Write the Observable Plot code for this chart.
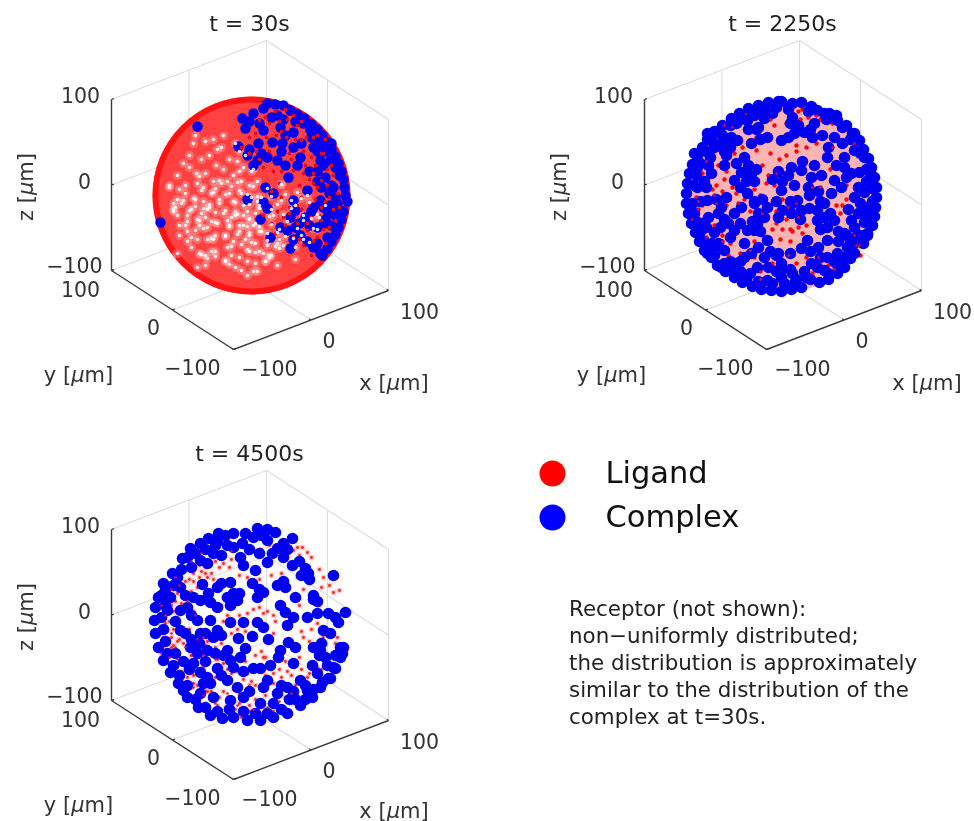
<!DOCTYPE html>
<html><head><meta charset="utf-8">
<script src="https://cdn.jsdelivr.net/npm/d3@7"></script>
<script src="https://cdn.jsdelivr.net/npm/@observablehq/plot@0.6"></script>
<style>
html,body{margin:0;padding:0;background:#fff;overflow:hidden;width:974px;height:821px;position:relative}
.p{position:absolute;display:block}
.p svg{display:block;overflow:visible;filter:blur(.5px)}
#note{position:absolute;left:569px;top:595px;font:21.4px/27px "DejaVu Sans",sans-serif;color:#222;white-space:nowrap;filter:blur(.3px)}
</style></head><body>
<div id="root"></div>
<div id="note">Receptor (not shown):<br>non−uniformly distributed;<br>the distribution is approximately<br>similar to the distribution of the<br>complex at t=30s.</div>
<script>
// Values: flat lists of (h, v), position in the viewing plane, in µm from the sphere centre.
const titles = ["t = 30s","t = 2250s","t = 4500s"];
const legendNames = ["Ligand","Complex"];
const axisTicks = [-100,0,100];

const complex30 = [-54,69,-9,77,2,82,12,87,26,80,39,85,51,77,-6,67,12,65,29,68,42,63,59,65,-13,49,7,52,21,53,31,52,42,48,-4,40,6,35,26,35,34,30,49,38,62,48,69,35,37,18,56,5,14,8,22,2,12,-7,16,-13,-4,-4,42,-5,44,-15,39,-22,9,-24,29,-32,36,-35,19,-42,49,-40,54,-22,39,-53,62,-12,69,-5,66,-32,62,-52,69,-58,77,-18,82,8,74,18,79,35,69,52,-91,-27,
16,92,24,91,32,90,39,85,46,81,53,77,60,71,66,66,71,60,76,53,80,46,84,39,87,32,90,24,92,16,93,8,94,0,96,-6,92,-16,90,-24,87,-32,84,-39,80,-46,76,-53,71,-60,88,20,84,28,80,10,86,-8,84,-20,80,-30,76,-42,72,-28,
-2,46,10,42,2,30,16,38,30,44,46,30,58,24,66,44,74,44,80,52,72,30,66,24,60,-16,72,-12,74,-24,48,-28,44,-32,42,-44,56,-46,58,-30,66,-48,78,-10,70,8,78,2,66,14,52,72,44,74,32,76,20,78,8,72,-2,74,34,60,50,52,60,58,68,54,84,-2,88,-14];
const ligandOver30 = [8,75,18,72,28,74,36,76,46,70,55,58,15,58,25,60,35,58,50,55,-2,58,5,44,18,44,38,42,52,44,60,38,72,42,12,28,22,24,42,25,52,22,62,22,28,12,48,10,62,12,70,15,76,26,30,-2,50,-2,58,-8,70,-12,78,-2,76,10,26,-16,38,-12,50,-14,60,-22,70,-25,78,-32,20,-28,32,-22,46,-28,56,-35,66,-42,28,-44,42,-42,52,-50,60,-60,74,-48,84,-25,88,-12,86,2,82,20,74,56,62,58,42,80,24,84,
4,62,14,78,30,64,44,56,64,30,70,42,80,30,54,30,40,36,30,24,46,-10,64,-4,74,-6,82,-14,56,-28,68,-20,72,-34,62,-46,48,-44,34,-30,24,-38,66,8,58,16,-2,42,8,36,-10,48,34,86,50,74,66,60,12,-20,20,4,38,-18];
const gaps30 = [-62,40,-55,22,-48,8,-42,-12,-35,30,-30,48,-24,14,-18,-6,-12,24,-8,-30,-2,10,4,-48,-66,10,-60,-14,-52,-30,-44,-44,-36,-56,-28,-18,-22,36,-16,52,-10,2,-4,-16,2,26,8,-36,12,-58,-70,-8,-58,52,-50,36,-46,22,-40,2,-34,-28,-28,60,-22,-30,-18,-46,-12,-62,-6,40,0,-2,6,14,-64,-26,-54,-44,-46,-60,-38,14,-32,-8,-26,-40,-20,-60,-14,34,-8,-10,-2,-40,4,-18,10,-2,-74,20,-68,32,-56,-4,-50,-18,-42,40,-36,-40,-30,12,-24,-52,-16,-20,-10,14,-4,-54,2,-30,-62,28,-54,12,-48,-6,-40,-26,-34,46,-28,26,-22,2,-16,-72,-8,28,-2,-24,6,-6,-78,-16,-72,-40,-64,-46,-56,60,-46,54,-38,56,-26,-66,-18,20,-12,44,-6,-44,0,24,8,-56,16,-50,22,-20,18,-62,-44,-14,-32,-4,-20,-22,-12,-36,-4,-66,4,-68,14,-66,-52,-58,32,-50,-38,-44,10,-36,-12,-30,-54,-24,-8,-20,44,-10,56,0,-66,-30,-76,-12,-72,6,-60,-52,-74,-20,-64,-36,-74,-4,-82,8,-74,
-58,44,-52,28,-44,16,-38,-4,-31,36,-26,52,-20,20,-14,-2,-9,30,-5,-26,1,16,7,-44,-63,4,-57,-10,-49,-26,-41,-48,-33,-52,-25,-14,-19,40,-13,58,-7,6,-1,-12,5,30,11,-32,15,-54,-72,-2,-56,58,-47,42,-43,26,-37,8,-31,-24,-25,66,-19,-26,-15,-42,-9,-58,-3,46,3,2,9,18,-60,-20,-51,-40,-43,-56,-35,20,-29,-2,-23,-36,-17,-56,-11,40,-5,-4,1,-36,7,-14,13,2,-76,14,-66,28,-53,0,-47,-14,-39,46,-33,-36,-27,18,-21,-48,-13,-16,-7,20,-1,-50,5,-26,-65,24,-51,16,-45,-2,-37,-22,-31,52,-25,32,-19,8,-13,-68,-5,34,1,-20,9,-10,-75,-22,-69,-36,-61,-50,-59,34,-41,62,-33,60,-23,-62,-15,26,-9,50,-3,-38,3,30,11,-52,19,-46,-70,20,-60,26,-48,50,-40,28,-34,4,-28,-46,-22,-16,-16,8,-10,-40,-56,-44,-32,-64,-20,-78,-8,-66,2,-74,-78,-4,-80,6,-76,26,-70,44,-64,-60,-42,-72,-30,-78,-14,-82,10,-80,-62,52,-44,66,-34,68,-22,74,-10,70];

const complex2250 = [-3,94,8,92,17,93,27,89,45,82,53,75,62,70,68,62,75,55,79,46,84,37,87,28,90,18,92,8,92,-2,91,-12,90,-21,88,-30,83,-40,79,-48,66,-63,60,-72,53,-78,44,-84,35,-87,17,-92,7,-94,-3,-96,-13,-95,-23,-94,-32,-91,-42,-87,-50,-82,-59,-76,-67,-70,-73,-62,-80,-55,-85,-46,-89,-37,-93,-28,-96,-18,-98,-8,-98,2,-97,12,-95,22,-92,31,-87,40,-82,48,-77,56,-70,64,-62,70,-53,77,-45,82,-36,87,-26,90,-16,93,-6,94,
-37,75,-20,77,10,62,20,63,33,85,40,82,52,80,70,62,-53,58,-47,55,-77,62,-70,48,-40,38,-43,23,-33,22,-50,15,7,28,17,25,27,18,37,20,43,38,70,45,80,38,75,23,-3,5,25,0,13,-5,17,-15,25,-13,-2,-15,50,15,47,2,57,8,70,-2,80,3,87,7,67,-25,80,-27,33,-25,43,-32,-20,-22,-27,-28,-50,-18,-50,-35,-70,-37,-37,2,-77,-5,-87,28,-90,-18,-63,-12,-37,-35,23,-45,17,-53,27,-68,33,-72,-3,-82,-17,-85,43,-62,63,-52,70,-58,53,-58,70,-32,-77,-58,-63,-72,-50,-68,-33,-58,-20,-62,-3,-68,40,-75,10,-88,-27,-72,-83,-45,83,-12,83,-38,-33,52,-17,58,-87,8,-90,42,-73,22,67,22,-17,-45,-30,-35,-40,-48,-60,-55,-17,-12,-43,-12,7,-18,33,-15,50,-25,60,-38,43,-45,-3,55,
-12,82,-28,84,-48,72,-62,60,-74,38,-80,14,-84,-6,-82,-28,-72,-48,-54,-66,-34,-78,-8,-76,22,-82,52,-68,74,-44,84,-18,82,14,60,28,30,72,8,78,-60,30,-58,-2,-56,-28,-44,-66,-16,-72,-8,-60,6,-74,54,-46,-26,68,-60,44,-80,-28,-76,30,-30,-8,-26,-18,6,-6,40,-8,64,-14,62,-40,
-90,10,-92,-8,-88,-26,-84,-36,-80,-46,-70,-60,-60,-68,-48,-76,-38,-84,-26,-86,-12,-88,0,-88,12,-84,26,-84,44,-78,58,-64,68,-50,76,-40,86,-22,88,-6,86,14,-88,20,-84,32,-78,44,-72,54,-64,62,-54,70,-44,76,-32,82,-20,86,-8,88,4,86,24,84,42,76,58,68,66,56,76,42,82,26,86,18,74,8,
-62,52,-54,48,-58,40,-48,32,-36,30,-28,26,-38,14,-44,8,-30,14,-24,56,-30,80,-36,66,-28,66,6,72,14,70,4,58,28,58,26,66,38,60,50,58,58,52,44,48,52,30,60,38,62,18,86,24,30,30,18,34,4,20,-6,24,-12,16,-2,14,10,10,24,8,34,4,36,-6,16,-24,8,-8,-8,-6,-6,-22,40,-22,46,-18,36,-34,54,-36,74,-18,76,-8,72,-42,66,-46,-60,-24,-64,-32,-76,-22,-78,-32,-66,-48,-54,-42,-44,-28,-32,-26,-24,-36,-26,-52,-14,-56,-6,-58,6,-58,26,-56,34,-52,36,-62,50,-66,60,-62,20,-76,-40,-62,-56,-72,-70,-52,-44,-76,-4,-76,8,-78,-68,-4,-78,8,-66,-18,-30,-6,-22,-4];
const ligand2250 = [-28,45,-22,30,-14,42,-5,36,2,40,12,44,22,48,32,52,48,48,58,40,-62,4,-55,-4,-48,2,-40,-4,-30,6,-24,0,-18,12,-10,10,-8,22,-2,-4,4,-12,-8,-28,-2,-34,6,-34,14,-32,22,-30,-4,-44,6,-46,-30,-46,-22,-40,14,-22,18,-38,36,8,42,-6,28,8,52,-10,58,-10,56,-18,62,-4,-50,42,-42,48,-58,-10,-60,16,-70,-20,-72,6,-82,-10,-86,-6,-84,18,-78,34,-66,30,-52,68,-28,58,-10,70,2,72,16,76,28,70,-34,-55,-54,-48,-24,-76,-10,-72,4,-60,22,-62,34,-62,-46,-76,-56,-60,66,-66,72,-50,62,10,-68,-8,12,50,70,52,38,78,-62,-46,-36,28,-16,20,-8,-16,12,-8,30,28,46,26,-68,10,-92,-24,-72,-42,-78,-42,-38,-82,-24,-84,18,-76,50,-74,76,-60,75,-50,36,76,24,78,14,84,
-88,-2,-82,22,-86,-14,-76,18,-70,0,-82,44,-60,70,-38,80,-14,76,18,86,32,80,48,72,-70,-30,-62,-40,-44,-58,-30,-62,-12,-68,12,-68,28,-78,44,-70,70,-40,78,-20,-58,24,-52,8,-46,-8,-34,-16,-22,-18,2,-24,8,-36,-12,-34];

const complex4500 = [-33,92,-43,87,-51,82,-61,77,-69,67,-79,52,-88,42,-93,28,-96,18,-97,5,-96,-8,-93,-22,-88,-35,-81,-47,-73,-58,-64,-72,-53,-82,-41,-90,-29,-93,-18,-92,-4,-95,9,-95,22,-92,36,-88,49,-80,61,-72,69,-62,77,-53,84,-43,89,-32,92,-22,94,13,87,3,82,50,6,97,16,96,24,93,41,87,-18,92,2,88,16,85,26,77,-9,82,-24,80,-38,72,-51,65,-64,68,-74,48,-71,38,-81,28,-84,15,-64,18,-54,5,-51,25,-43,32,-49,41,-34,38,-21,43,-18,32,-14,25,-21,20,-41,23,-34,18,1,42,6,28,12,33,26,40,34,38,29,20,34,13,44,28,62,30,57,52,54,57,41,60,32,68,21,72,16,63,4,55,-8,60,-18,78,36,0,42,8,56,8,66,12,77,12,72,-5,79,-8,89,-22,91,-28,69,-25,62,-22,61,-40,82,-42,79,-53,71,-57,56,-65,29,-25,27,-32,37,-17,44,-22,42,-38,17,-14,1,-11,-13,-13,-21,3,-8,3,6,3,12,-2,-41,5,-34,-5,-51,-8,-44,-25,-61,-22,-71,-5,-71,15,-24,-25,-6,-23,-21,-35,-11,-32,2,-43,19,-40,9,-43,-34,-43,-51,-47,-41,-58,-24,-55,16,-55,12,-62,26,-68,36,-62,49,-55,-68,-65,-51,-68,-38,-72,-21,-75,-8,-72,9,-78,22,-78,-11,68,
-90,30,-86,20,-90,8,-88,-4,-86,-16,-84,-28,-78,-40,-72,-50,-64,-60,-56,-74,-46,-82,-34,-86,-22,-84,-8,-86,4,-88,16,-88,30,-84,44,-74,54,-74,62,-64,-78,40,-70,56,-60,58,-56,72,-46,76,-34,84,-26,90,-6,92,10,90,32,82,36,76,48,64,-76,4,-66,-8,-60,-14,-52,-18,-54,-28,-46,-36,-60,10,-58,28,-66,30,-38,-12,-30,-10,-46,-8,-36,-28,-28,-30,-18,-42,-24,28,-18,24,-12,32,8,36,32,44,62,26,58,46,50,50,66,24,84,8,70,-18,74,-32,84,-30,76,-40,66,-48,68,-30,-30,42,-8,-46,-76,-28,-68,-36,-62,-44,-44,-52,-30,-50,-14,-62,-2,-66,30,-60,42,-66,54,-60,38,-74,-2,76,8,72,-30,70,-44,62,-36,80,-58,-38,-48,-58,-86,36];
const ligand4500 = [46,78,56,73,51,78,42,75,60,68,68,56,72,48,78,40,88,35,70,38,82,33,48,70,36,70,-28,62,-22,58,-12,50,-4,48,8,46,20,50,30,52,46,48,48,20,52,36,58,42,68,20,16,14,22,10,24,4,22,-8,50,-6,52,-12,58,-16,48,-32,36,-46,30,-52,28,-44,10,-26,14,-32,4,-30,-30,-18,-28,4,-30,20,-58,52,-62,46,-60,34,-68,28,-58,14,-76,24,-80,20,-74,8,-82,4,-88,-12,-84,-6,-90,-28,-80,-12,-76,-26,-70,-34,-62,-38,-54,-32,-44,-16,-56,-16,-62,-4,-40,-10,-80,-38,-76,-48,-70,-46,-64,-52,-58,-58,-60,-62,-52,-72,-46,-78,-44,-66,-34,-80,-26,-82,-22,-86,-16,-84,-10,-86,-6,-88,-2,-86,4,-86,10,-88,14,-84,22,-86,30,-82,40,-78,46,-72,52,-72,60,-62,66,-42,74,-36,74,-18,76,-30,72,-12,-6,-44,-4,-48,-8,-54,-2,-60,0,-56,28,-62,22,-48,-28,-38,-14,-46,-12,-68,4,-60,44,-68,58,-48,70,-44,60,-4,70,-14,66,2,86,-12,84,-18,-12,10,-4,12,2,16,8,18,12,12,-20,-8,-14,-4,-6,-6,-70,58,-52,60,-46,58,-40,52,-32,58,-36,64,-66,-12,-68,-18,-74,-16,-78,-20,-20,66,-4,72,10,76,18,80,34,80,-44,48,-38,46,-52,48,-28,28,-24,10,-34,-34,-30,-50,-18,-64,-28,-66,
-74,32,-70,22,-78,14,-82,22,-86,2,-78,-4,-72,-14,-80,-22,-84,-14,-74,-40,-66,-44,-58,-50,-54,-60,-46,-66,-40,-66,-32,-72,-12,-78,-2,-80,4,-74,14,-70,24,-72,34,-72,44,-60,-14,-90,-10,-92,-2,-91,6,-90,-66,44,-58,44,-54,38,-46,52,-50,54,-60,-30,-50,-26,-46,-20,-40,-30,-36,-22,-48,-42,-36,-52,-24,-44,-20,-48,-6,-36,12,-32,14,-50,22,-58,34,-36,40,-50,50,-44,56,-52];
const ligandOver4500 = [-90,20,-86,10,-80,-8,-76,-22,-82,-32,-74,-34,-66,-22,-60,-30,-54,-14,-48,-30,-58,-62,-48,-70,-36,-78,-24,-68,-14,-80,2,-84,16,-82,28,-76,40,-68,-72,40,-64,24,-56,10,-48,-12,-36,-34,-80,36,-76,48,-60,64,-50,72,-20,74];

const sphere = [{h:0,v:0}];
const cubeEdges = [
 [[-100,100,100],[100,100,100]],[[100,100,100],[100,-100,100]],[[100,100,-100],[100,100,100]],
 [[-100,100,0],[100,100,0]],[[0,100,-100],[0,100,100]],[[100,100,0],[100,-100,0]],[[100,0,-100],[100,0,100]],
 [[100,-100,-100],[100,-100,100]],[[-100,100,-100],[100,100,-100]],[[100,100,-100],[100,-100,-100]],
 [[0,-100,-100],[0,100,-100]],[[-100,0,-100],[100,0,-100]]];
const axisEdges = [[[-100,100,-100],[-100,100,100]],[[-100,100,-100],[-100,-100,-100]],[[-100,-100,-100],[100,-100,-100]]];

const pts = a => d3.range(0,a.length,2).map(i=>({h:a[i],v:a[i+1]}));
const project = ([x,y,z]) => ({h:-1.5+.775*x-.61*y, v:.5+.295*x+.395*y+.855*z});
const segs = list => list.map(([a,b])=>({a:project(a),b:project(b)}));
const font = '"DejaVu Sans",sans-serif';

function panel(title, layers, height, left, top, lift=0){
  const gridSegs = segs(cubeEdges), axisSegs = segs(axisEdges);
  const tickSegs = segs(axisTicks.flatMap(t=>[
    [[-100,100,t],[-97,100,t]],[[-100,t,-100],[-97,t,-100]],[[t,-100,-100],[t,-97,-100]]]));
  const lab = (t,xyz,dx,dy,extra={}) => Plot.text([project(xyz)],{x:"h",y:"v",text:()=>t,dx,dy,fontSize:20.5,fill:"#333",...extra});
  const link = (d,o) => Plot.link(d,{x1:q=>q.a.h,y1:q=>q.a.v,x2:q=>q.b.h,y2:q=>q.b.v,...o});
  const fmt = t => String(t).replace("-","−");
  const marks = [
    link(gridSegs,{stroke:"#dcdcdc",strokeWidth:1.1}),
    ...layers,
    link(axisSegs,{stroke:"#3a3a3a",strokeWidth:1.4}),
    link(tickSegs,{stroke:"#3a3a3a",strokeWidth:1.2}),
    lab(fmt(100),[-100,100,100],-31,-3),lab(fmt(0),[-100,100,0],-27,-3),lab(fmt(-100),[-100,100,-100],-37,-4),
    lab(fmt(100),[-100,100,-100],-31,20),lab(fmt(0),[-100,0,-100],-19,18),lab(fmt(-100),[-100,-100,-100],-41,19),
    lab(fmt(-100),[-100,-100,-100],36,20),lab(fmt(0),[0,-100,-100],18,21),lab(fmt(100),[100,-100,-100],31,22),
    lab("x [μm]",[0,-100,-100],83,63-lift,{fontSize:21}),
    lab("y [μm]",[-100,0,-100],-94,65,{fontSize:21}),
    Plot.text([project([-100,100,0])],{x:"h",y:"v",text:()=>"z [μm]",rotate:-90,dx:-85,dy:2,fontSize:21,fill:"#333"}),
    Plot.text(sphere,{x:"h",y:"v",text:()=>title,dx:-2,dy:-172,fontSize:22,fill:"#222"})
  ];
  const el = Plot.plot({width:440,height,margin:0,
    x:{domain:[-251,189],axis:null},y:{domain:[195-height,195],axis:null},
    style:{fontFamily:font,background:"transparent"},marks});
  el.querySelectorAll("text").forEach(t=>{
    if(t.textContent.includes("μ")) t.innerHTML=t.textContent.replace("μ",'<tspan font-style="italic">μ</tspan>');
  });
  const w=document.createElement("div"); w.className="p";
  w.style.left=left+"px"; w.style.top=top+"px"; w.appendChild(el);
  document.getElementById("root").appendChild(w);
}
const xy={x:"h",y:"v"};
panel(titles[0],[
  Plot.dot(sphere,{...xy,r:99,fill:"#ff2020",fillOpacity:.85}),
  Plot.dot(sphere,{...xy,r:96,stroke:"#f00",strokeWidth:6,fill:"none",strokeOpacity:.7}),
  Plot.dot(pts(gaps30),{...xy,r:4.5,fill:"#fff",fillOpacity:.22}),
  Plot.dot(pts(complex30),{...xy,r:5.2,fill:"#0000f0"}),
  Plot.dot(pts(ligandOver30),{...xy,r:1.9,fill:"#d8102a"}),
  Plot.dot(pts(gaps30),{...xy,r:1.8,fill:"#fff",fillOpacity:.85})
],400,0,0);
panel(titles[1],[
  Plot.dot([{h:-3,v:-1}],{...xy,r:96,fill:"#ffb4b4"}),
  Plot.dot(pts(ligand2250),{...xy,r:2.2,fill:"#f00"}),
  Plot.dot(pts(complex2250),{...xy,r:5.8,fill:"#0000f0"}),
  Plot.dot(pts(ligand2250).filter((d,i)=>i%2==0),{...xy,r:1.3,fill:"#e0103a"})
],400,533,0);
panel(titles[2],[
  Plot.dot(pts(ligand4500),{...xy,r:3,fill:"#f66",fillOpacity:.35}),
  Plot.dot(pts(ligand4500),{...xy,r:1.4,fill:"#f22"}),
  Plot.dot(pts(complex4500),{...xy,r:5.8,fill:"#0000f0"}),
  Plot.dot(pts(ligandOver4500),{...xy,r:1.3,fill:"#e0103a"})
],391,0,430,2);

// legend
const legendPlot = Plot.plot({width:300,height:100,margin:0,
  x:{domain:[0,300],axis:null},y:{type:"point",domain:legendNames,range:[33,77],padding:0,axis:null},
  style:{fontFamily:font,background:"transparent"},
  marks:[
    Plot.dot(legendNames,{x:()=>52,y:d=>d,r:13,fill:d=>d,stroke:null}),
    Plot.text(legendNames,{x:()=>105,y:d=>d,text:d=>d,textAnchor:"start",fontSize:30.5,fill:"#111"})
  ],color:{domain:legendNames,range:["#f00","#00f"]}});
const lw=document.createElement("div");lw.className="p";lw.style.left="500px";lw.style.top="440px";lw.appendChild(legendPlot);
document.getElementById("root").appendChild(lw);
</script></body></html>
